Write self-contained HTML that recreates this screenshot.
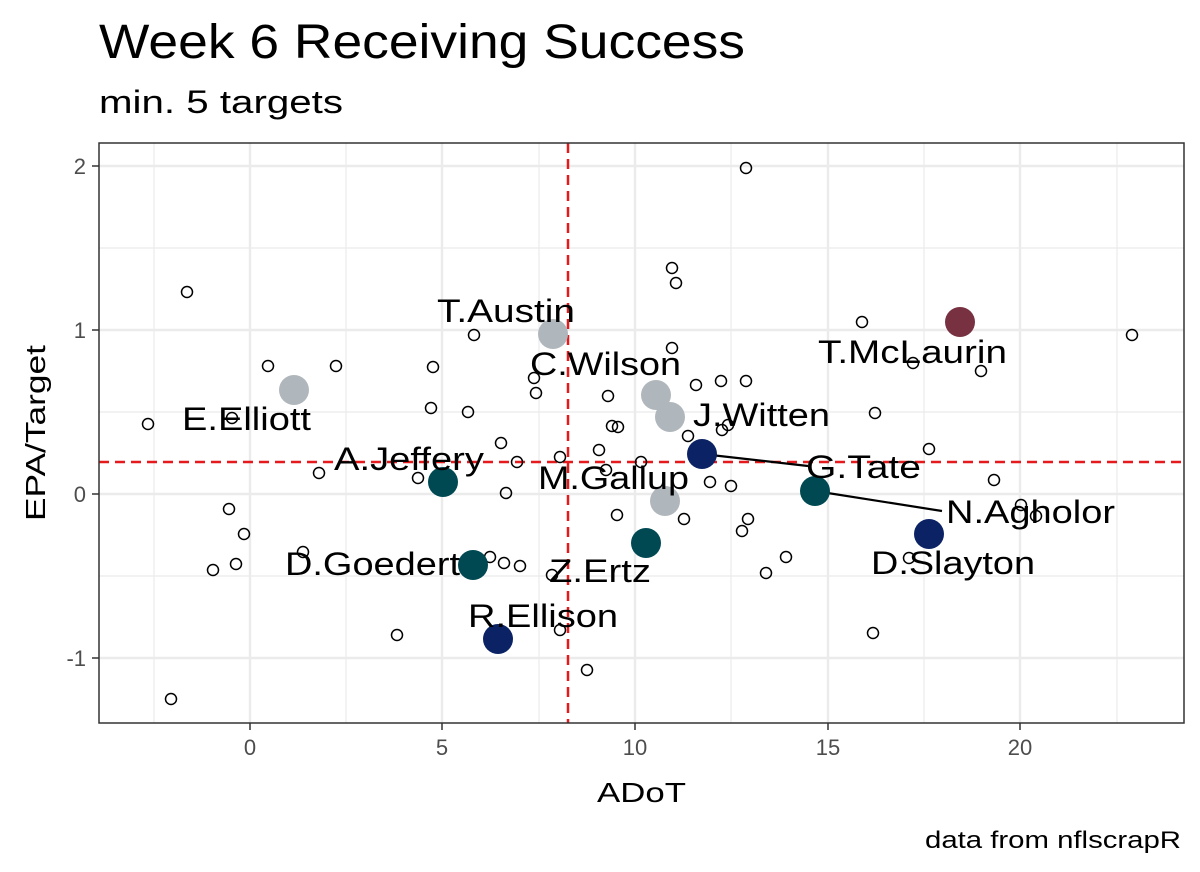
<!DOCTYPE html>
<html><head><meta charset="utf-8"><style>body{margin:0;background:#fff}svg{display:block;font-family:"Liberation Sans",Arial,sans-serif}</style></head><body>
<svg width="1200" height="872" viewBox="0 0 1200 872" xmlns="http://www.w3.org/2000/svg">
<rect width="1200" height="872" fill="#fff"/>
<text x="99" y="58" font-size="48" fill="#000" textLength="646" lengthAdjust="spacingAndGlyphs">Week 6 Receiving Success</text>
<text x="99" y="113" font-size="32" fill="#000" textLength="244" lengthAdjust="spacingAndGlyphs">min. 5 targets</text>
<g stroke="#ebebeb" stroke-width="1.2">
<line x1="154" y1="143" x2="154" y2="723"/><line x1="346" y1="143" x2="346" y2="723"/><line x1="539" y1="143" x2="539" y2="723"/><line x1="731" y1="143" x2="731" y2="723"/><line x1="924" y1="143" x2="924" y2="723"/><line x1="1117" y1="143" x2="1117" y2="723"/>
<line x1="99" y1="248" x2="1184" y2="248"/><line x1="99" y1="412" x2="1184" y2="412"/><line x1="99" y1="576" x2="1184" y2="576"/>
</g>
<g stroke="#ebebeb" stroke-width="2.4">
<line x1="250" y1="143" x2="250" y2="723"/><line x1="442" y1="143" x2="442" y2="723"/><line x1="635" y1="143" x2="635" y2="723"/><line x1="828" y1="143" x2="828" y2="723"/><line x1="1020" y1="143" x2="1020" y2="723"/>
<line x1="99" y1="166" x2="1184" y2="166"/><line x1="99" y1="330" x2="1184" y2="330"/><line x1="99" y1="494" x2="1184" y2="494"/><line x1="99" y1="658" x2="1184" y2="658"/>
</g>
<g stroke="#e41a1c" stroke-width="2.5" stroke-dasharray="10,6"><line x1="568" y1="143" x2="568" y2="723"/><line x1="99" y1="462" x2="1184" y2="462"/></g>
<g fill="none" stroke="#000" stroke-width="1.5">
<circle cx="746" cy="168" r="5.5"/><circle cx="187" cy="292" r="5.5"/><circle cx="672" cy="268" r="5.5"/><circle cx="676" cy="283" r="5.5"/><circle cx="862" cy="322" r="5.5"/><circle cx="1132" cy="335" r="5.5"/><circle cx="474" cy="335" r="5.5"/><circle cx="672" cy="348" r="5.5"/><circle cx="268" cy="366" r="5.5"/><circle cx="336" cy="366" r="5.5"/><circle cx="433" cy="367" r="5.5"/><circle cx="913" cy="363" r="5.5"/><circle cx="981" cy="371" r="5.5"/><circle cx="534" cy="378" r="5.5"/><circle cx="536" cy="393" r="5.5"/><circle cx="746" cy="381" r="5.5"/><circle cx="696" cy="385" r="5.5"/><circle cx="721" cy="381" r="5.5"/><circle cx="608" cy="396" r="5.5"/><circle cx="431" cy="408" r="5.5"/><circle cx="468" cy="412" r="5.5"/><circle cx="875" cy="413" r="5.5"/><circle cx="612" cy="426" r="5.5"/><circle cx="618" cy="427" r="5.5"/><circle cx="232" cy="418" r="5.5"/><circle cx="148" cy="424" r="5.5"/><circle cx="688" cy="436" r="5.5"/><circle cx="722" cy="430" r="5.5"/><circle cx="728" cy="425" r="5.5"/><circle cx="501" cy="443" r="5.5"/><circle cx="599" cy="450" r="5.5"/><circle cx="517" cy="462" r="5.5"/><circle cx="560" cy="457" r="5.5"/><circle cx="641" cy="462" r="5.5"/><circle cx="606" cy="470" r="5.5"/><circle cx="319" cy="473" r="5.5"/><circle cx="418" cy="478" r="5.5"/><circle cx="994" cy="480" r="5.5"/><circle cx="929" cy="449" r="5.5"/><circle cx="710" cy="482" r="5.5"/><circle cx="731" cy="486" r="5.5"/><circle cx="506" cy="493" r="5.5"/><circle cx="1021" cy="505" r="5.5"/><circle cx="1036" cy="516" r="5.5"/><circle cx="229" cy="509" r="5.5"/><circle cx="617" cy="515" r="5.5"/><circle cx="684" cy="519" r="5.5"/><circle cx="244" cy="534" r="5.5"/><circle cx="742" cy="531" r="5.5"/><circle cx="303" cy="552" r="5.5"/><circle cx="490" cy="557" r="5.5"/><circle cx="213" cy="570" r="5.5"/><circle cx="236" cy="564" r="5.5"/><circle cx="504" cy="563" r="5.5"/><circle cx="520" cy="566" r="5.5"/><circle cx="552" cy="575" r="5.5"/><circle cx="766" cy="573" r="5.5"/><circle cx="786" cy="557" r="5.5"/><circle cx="909" cy="558" r="5.5"/><circle cx="748" cy="519" r="5.5"/><circle cx="873" cy="633" r="5.5"/><circle cx="397" cy="635" r="5.5"/><circle cx="560" cy="630" r="5.5"/><circle cx="587" cy="670" r="5.5"/><circle cx="171" cy="699" r="5.5"/>
</g>
<g stroke="#000" stroke-width="2.2"><line x1="702" y1="454" x2="808" y2="466"/><line x1="815" y1="491" x2="942" y2="511"/></g>
<g>
<circle cx="553" cy="334" r="15" fill="#b0b7bc"/><circle cx="294" cy="390" r="15" fill="#b0b7bc"/><circle cx="656" cy="395" r="15" fill="#b0b7bc"/><circle cx="670" cy="417" r="15" fill="#b0b7bc"/><circle cx="665" cy="501" r="15" fill="#b0b7bc"/>
<circle cx="443" cy="482" r="15" fill="#004953"/><circle cx="815" cy="491" r="15" fill="#004953"/><circle cx="646" cy="543" r="15" fill="#004953"/><circle cx="473" cy="565" r="15" fill="#004953"/>
<circle cx="702" cy="454" r="15" fill="#0b2265"/><circle cx="929" cy="534" r="15" fill="#0b2265"/><circle cx="498" cy="639" r="15" fill="#0b2265"/>
<circle cx="960" cy="322" r="15" fill="#773141"/>
</g>
<g font-size="32" fill="#000">
<text x="437" y="322" textLength="138" lengthAdjust="spacingAndGlyphs">T.Austin</text>
<text x="530" y="375" textLength="151" lengthAdjust="spacingAndGlyphs">C.Wilson</text>
<text x="182" y="430" textLength="129" lengthAdjust="spacingAndGlyphs">E.Elliott</text>
<text x="693" y="426" textLength="137" lengthAdjust="spacingAndGlyphs">J.Witten</text>
<text x="334" y="470" textLength="150" lengthAdjust="spacingAndGlyphs">A.Jeffery</text>
<text x="806" y="478" textLength="115" lengthAdjust="spacingAndGlyphs">G.Tate</text>
<text x="538" y="489" textLength="151" lengthAdjust="spacingAndGlyphs">M.Gallup</text>
<text x="946" y="523" textLength="169" lengthAdjust="spacingAndGlyphs">N.Agholor</text>
<text x="285" y="575" textLength="175" lengthAdjust="spacingAndGlyphs">D.Goedert</text>
<text x="549" y="582" textLength="102" lengthAdjust="spacingAndGlyphs">Z.Ertz</text>
<text x="871" y="574" textLength="164" lengthAdjust="spacingAndGlyphs">D.Slayton</text>
<text x="468" y="627" textLength="150" lengthAdjust="spacingAndGlyphs">R.Ellison</text>
<text x="818" y="363" textLength="189" lengthAdjust="spacingAndGlyphs">T.McLaurin</text>
</g>
<rect x="99" y="143" width="1085" height="580" fill="none" stroke="#333" stroke-width="1.5"/>
<g stroke="#333" stroke-width="1.5">
<line x1="250" y1="723" x2="250" y2="730"/><line x1="442" y1="723" x2="442" y2="730"/><line x1="635" y1="723" x2="635" y2="730"/><line x1="828" y1="723" x2="828" y2="730"/><line x1="1020" y1="723" x2="1020" y2="730"/>
<line x1="92" y1="166" x2="99" y2="166"/><line x1="92" y1="330" x2="99" y2="330"/><line x1="92" y1="494" x2="99" y2="494"/><line x1="92" y1="658" x2="99" y2="658"/>
</g>
<g font-size="22" fill="#4d4d4d" text-anchor="middle">
<text x="250" y="755">0</text><text x="442" y="755">5</text><text x="635" y="755">10</text><text x="828" y="755">15</text><text x="1020" y="755">20</text>
</g>
<g font-size="22" fill="#4d4d4d" text-anchor="end">
<text x="86" y="174">2</text><text x="86" y="338">1</text><text x="86" y="502">0</text><text x="86" y="666">-1</text>
</g>
<text x="597" y="802" font-size="28" textLength="89" lengthAdjust="spacingAndGlyphs">ADoT</text>
<text transform="translate(45,521) rotate(-90)" font-size="28" textLength="176" lengthAdjust="spacingAndGlyphs">EPA/Target</text>
<text x="925" y="848" font-size="24" textLength="256" lengthAdjust="spacingAndGlyphs">data from nflscrapR</text>
</svg>
</body></html>
